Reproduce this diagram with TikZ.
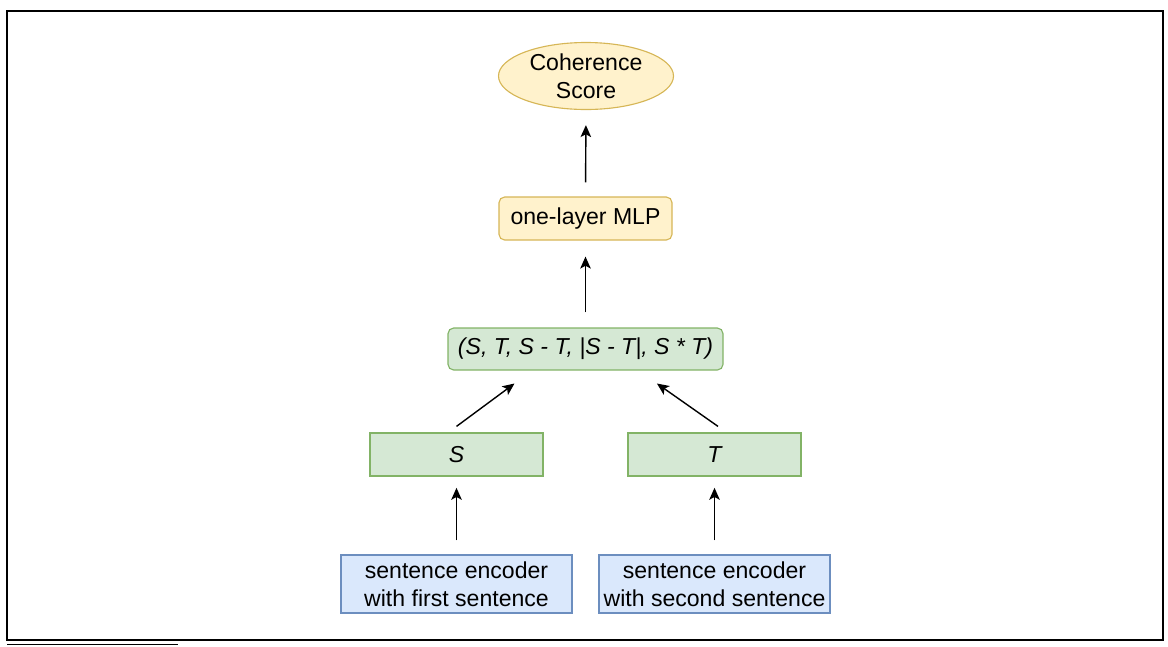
\documentclass[tikz,border=0pt]{standalone}
\usepackage{fontspec}
\setmainfont{Liberation Sans}
\usetikzlibrary{arrows.meta,positioning,shapes.geometric}
\definecolor{yfill}{HTML}{FFF2CC}
\definecolor{ydraw}{HTML}{D6B656}
\definecolor{gfill}{HTML}{D5E8D4}
\definecolor{gdraw}{HTML}{82B366}
\definecolor{bfill}{HTML}{DAE8FC}
\definecolor{bdraw}{HTML}{6C8EBF}
\tikzset{
  lbl/.style={font=\fontsize{16.4}{19.6}\selectfont, align=center, inner sep=0pt},
  outbox/.style={lbl, ellipse, draw=ydraw, fill=yfill, line width=0.8pt,
                 minimum width=175*0.025cm, minimum height=67*0.025cm},
  mlpbox/.style={lbl, draw=ydraw, fill=yfill, rounded corners=4pt, line width=0.8pt,
                 minimum width=173*0.025cm, minimum height=43*0.025cm},
  featbox/.style={lbl, draw=gdraw, fill=gfill, rounded corners=4pt, line width=0.8pt,
                 minimum width=275*0.025cm, minimum height=42*0.025cm},
  vecbox/.style={lbl, draw=gdraw, fill=gfill, line width=0.8pt,
                 minimum width=173*0.025cm, minimum height=43*0.025cm},
  encbox/.style={lbl, draw=bdraw, fill=bfill, line width=0.8pt,
                 minimum width=231*0.025cm, minimum height=58*0.025cm},
  arr/.style={-{Stealth[length=8.5pt, width=7.5pt, inset=2pt]}, line width=1pt, black},
}

\begin{document}
\begin{tikzpicture}[x=0.025cm, y=-0.025cm]
  \useasboundingbox (0,0) rectangle (1168,646);
  % frame
  \draw[line width=1.4pt] (7,11) rectangle (1163,640);
  \draw[line width=0.7pt] (7,644) -- (178,644);
  % nodes
  \node[outbox] (score) at (586,76) {Coherence\\Score};
  \node[mlpbox] (mlp) at (585.5,218.5) {one-layer MLP};
  \node[featbox] (feat) at (585.5,349) {\itshape (S, T, S - T, |S - T|, S * T)};
  \node[vecbox] (svec) at (456.5,454.5) {\itshape S};
  \node[vecbox] (tvec) at (714.5,454.5) {\itshape T};
  \node[encbox] (encs) at (456.5,584) {sentence encoder\\with first sentence};
  \node[encbox] (enct) at (714.5,584) {sentence encoder\\with second sentence};
  % arrows
  \draw[arr, shorten <=10pt, shorten >=8pt] (encs.north) -- (svec.south);
  \draw[arr, shorten <=10pt, shorten >=8pt] (enct.north) -- (tvec.south);
  \draw[arr] ([yshift=4.3pt]svec.north) -- ([xshift=-50.5pt, yshift=-9.2pt]feat.south);
  \draw[arr] ([xshift=2.5pt, yshift=4.3pt]tvec.north) -- ([xshift=50.8pt, yshift=-9.2pt]feat.south);
  \draw[arr, shorten <=10.7pt, shorten >=11.4pt] (feat.north) -- (mlp.south);
  \draw[arr, shorten <=10pt, shorten >=10.7pt] (mlp.north) -- (score.south);
\end{tikzpicture}
\end{document}
